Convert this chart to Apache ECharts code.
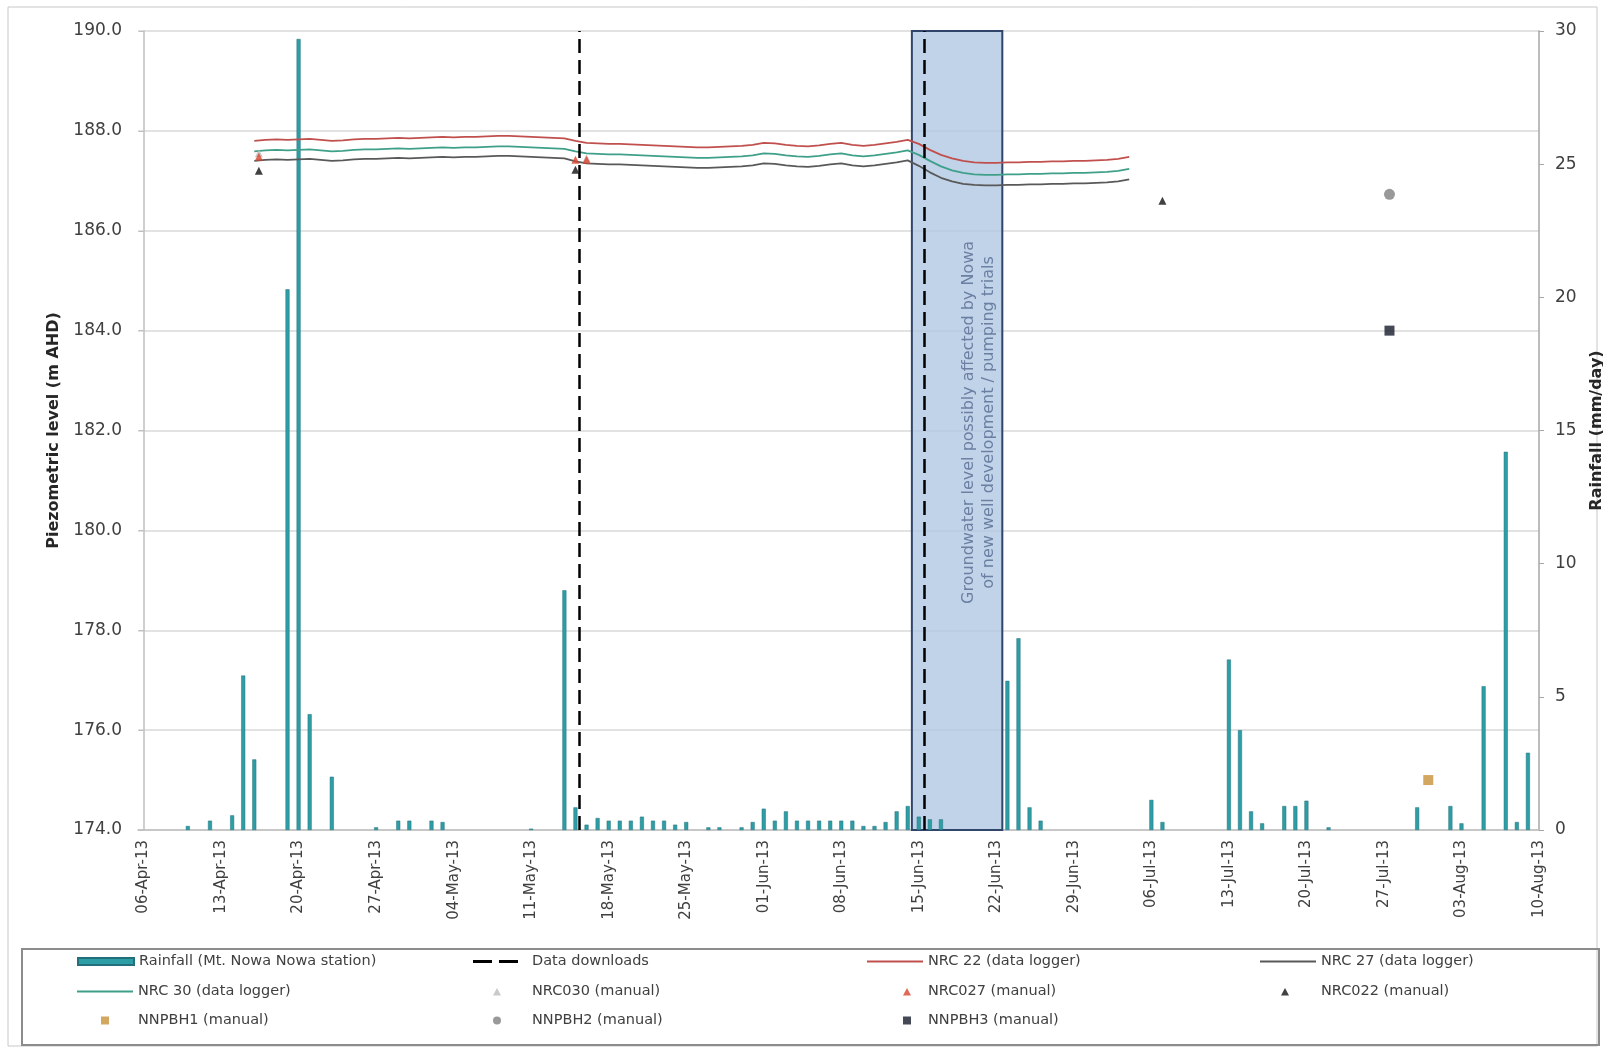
<!DOCTYPE html>
<html><head><meta charset="utf-8">
<script src="https://cdn.jsdelivr.net/npm/echarts@6/dist/echarts.min.js"></script>
<style>html,body{margin:0;padding:0;background:#fff;overflow:hidden}#chart{width:1603px;height:1049px}</style>
</head><body><div id="chart"></div>
<script>
// ---------------- DATA ----------------
const axisStart = '2013-04-06';
const axisEndDay = 126; // 10-Aug-13
const monthNames = ['Jan','Feb','Mar','Apr','May','Jun','Jul','Aug','Sep','Oct','Nov','Dec'];

const rainDates = ['2013-04-10','2013-04-12','2013-04-14','2013-04-15','2013-04-16','2013-04-19','2013-04-20','2013-04-21','2013-04-23',
  '2013-04-27','2013-04-29','2013-04-30','2013-05-02','2013-05-03','2013-05-11','2013-05-14','2013-05-15','2013-05-16','2013-05-17',
  '2013-05-18','2013-05-19','2013-05-20','2013-05-21','2013-05-22','2013-05-23','2013-05-24','2013-05-25','2013-05-27','2013-05-28',
  '2013-05-30','2013-05-31','2013-06-01','2013-06-02','2013-06-03','2013-06-04','2013-06-05','2013-06-06','2013-06-07','2013-06-08',
  '2013-06-09','2013-06-10','2013-06-11','2013-06-12','2013-06-13','2013-06-14','2013-06-15','2013-06-16','2013-06-17','2013-06-23',
  '2013-06-24','2013-06-25','2013-06-26','2013-07-06','2013-07-07','2013-07-13','2013-07-14','2013-07-15','2013-07-16','2013-07-18',
  '2013-07-19','2013-07-20','2013-07-22','2013-07-30','2013-08-02','2013-08-03','2013-08-05','2013-08-07','2013-08-08','2013-08-09'];
const rainValues = [0.15,0.35,0.55,5.8,2.65,20.3,29.7,4.35,2.0,
  0.1,0.35,0.35,0.35,0.3,0.05,9.0,0.85,0.2,0.45,
  0.35,0.35,0.35,0.5,0.35,0.35,0.2,0.3,0.1,0.1,
  0.1,0.3,0.8,0.35,0.7,0.35,0.35,0.35,0.35,0.35,
  0.35,0.15,0.15,0.3,0.7,0.9,0.5,0.4,0.4,5.6,
  7.2,0.85,0.35,1.13,0.3,6.4,3.75,0.7,0.25,0.9,
  0.9,1.1,0.1,0.85,0.9,0.25,5.4,14.2,0.3,2.9];

const loggerStart = '2013-04-16'; // daily values from this date
const nrc22 = [187.80,187.82,187.83,187.82,187.83,187.84,187.82,187.80,187.81,187.83,187.84,
  187.84,187.85,187.86,187.85,187.86,187.87,187.88,187.87,187.88,187.88,
  187.89,187.90,187.90,187.89,187.88,187.87,187.86,187.85,
  187.80,187.76,187.75,187.74,187.74,187.73,187.72,
  187.71,187.70,187.69,187.68,187.67,187.67,187.68,187.69,187.70,187.72,187.76,
  187.75,187.72,187.70,187.69,187.71,187.74,187.76,
  187.72,187.70,187.72,187.75,187.78,187.82,
  187.74,187.62,187.52,187.45,187.40,187.37,187.36,187.36,
  187.37,187.37,187.38,187.38,187.39,187.39,187.40,187.40,187.41,187.42,187.44,187.48];
const nrc30 = [187.59,187.61,187.62,187.61,187.62,187.63,187.61,187.59,187.60,187.62,187.63,
  187.63,187.64,187.65,187.64,187.65,187.66,187.67,187.66,187.67,187.67,
  187.68,187.69,187.69,187.68,187.67,187.66,187.65,187.64,
  187.59,187.55,187.54,187.53,187.53,187.52,187.51,
  187.50,187.49,187.48,187.47,187.46,187.46,187.47,187.48,187.49,187.51,187.55,
  187.54,187.51,187.49,187.48,187.50,187.53,187.55,
  187.51,187.49,187.51,187.54,187.57,187.61,
  187.52,187.40,187.29,187.21,187.16,187.13,187.12,187.12,
  187.13,187.13,187.14,187.14,187.15,187.15,187.16,187.16,187.17,187.18,187.20,187.24];
const nrc27 = [187.40,187.42,187.43,187.42,187.43,187.44,187.42,187.40,187.41,187.43,187.44,
  187.44,187.45,187.46,187.45,187.46,187.47,187.48,187.47,187.48,187.48,
  187.49,187.50,187.50,187.49,187.48,187.47,187.46,187.45,
  187.39,187.35,187.34,187.33,187.33,187.32,187.31,
  187.30,187.29,187.28,187.27,187.26,187.26,187.27,187.28,187.29,187.31,187.35,
  187.34,187.31,187.29,187.28,187.30,187.33,187.35,
  187.31,187.29,187.31,187.34,187.37,187.41,
  187.30,187.17,187.06,186.99,186.94,186.92,186.91,186.91,
  186.92,186.92,186.93,186.93,186.94,186.94,186.95,186.95,186.96,186.97,186.99,187.03];

const downloadDates = ['2013-05-15T08:00','2013-06-15T11:00'];
const shadeFrom = '2013-06-14T09:00';
const shadeTo = '2013-06-22T13:00';
const shadeText = 'Groundwater level possibly affected by Nowa\nof new well development / pumping trials';

const nrc030Manual = [['2013-04-16T10:00',187.55],['2013-05-16',187.45]];
const nrc027Manual = [['2013-04-16T10:00',187.48],['2013-05-15',187.42],['2013-05-16',187.42]];
const nrc022Manual = [['2013-04-16T10:00',187.20],['2013-05-15',187.22],['2013-07-07',186.60]];
const nnpbh1Manual = [['2013-07-31',175.0]];
const nnpbh2Manual = [['2013-07-27T12:00',186.73]];
const nnpbh3Manual = [['2013-07-27T12:00',184.0]];

// ---------------- HELPERS ----------------
function dayOf(s){
  const parts = s.split('T');
  const d = parts[0].split('-').map(Number);
  let h = 0, mi = 0;
  if (parts[1]) { const t = parts[1].split(':').map(Number); h = t[0]; mi = t[1]; }
  const a = axisStart.split('-').map(Number);
  return (Date.UTC(d[0], d[1]-1, d[2], h, mi) - Date.UTC(a[0], a[1]-1, a[2])) / 86400000;
}
function dayLabel(v){
  const r = Math.round(v);
  if (Math.abs(v - r) > 1e-6 || r % 7 !== 0 || r < 0) return '';
  const a = axisStart.split('-').map(Number);
  const dt = new Date(Date.UTC(a[0], a[1]-1, a[2]) + r*86400000);
  const dd = String(dt.getUTCDate()).padStart(2,'0');
  return dd + '-' + monthNames[dt.getUTCMonth()] + '-' + String(dt.getUTCFullYear()).slice(2);
}
const rainData = rainDates.map((d,i)=>[dayOf(d), rainValues[i]]);
const l0 = dayOf(loggerStart);
const lineData = arr => arr.map((v,i)=>[l0+i, v]);
const ptData = arr => arr.map(p=>[dayOf(p[0]), p[1]]);

const FONT = 'DejaVu Sans';
const TXT = '#404040';

// legend icons (56 x 9 box, mark centred at c)
const W = 56;
const box = 'M0,0M' + W + ',9';
const lineIcon = 'path://M0,3.5h' + W + 'v2h-' + W + 'z';
const dashIcon = 'path://M2,3h19v3h-19zM28,3h19v3h-19zM' + W + ',3M0,3';
const triIcon = c => 'path://' + box + 'M' + (c-4) + ',8.5L' + c + ',1L' + (c+4) + ',8.5Z';
const sqIcon = c => 'path://' + box + 'M' + (c-4) + ',0.5h8v8h-8z';
const circIcon = c => 'path://' + box + 'M' + (c-4) + ',4.5a4,4 0 1,0 8,0a4,4 0 1,0 -8,0z';

const chart = echarts.init(document.getElementById('chart'), null, {renderer:'canvas'});

function leg(name, left, rowC, h, icon){
  const o = {
    data:[name], left:left, top:rowC - 9, itemWidth:W, itemHeight:h, padding:0, itemGap:0,
    textStyle:{fontFamily:FONT, fontSize:14.5, color:TXT}, selectedMode:false
  };
  if (icon) o.icon = icon;
  return o;
}
const R1 = 963, R2 = 993, R3 = 1022;
const C1 = 77, C2 = 471, C3 = 867, C4 = 1260;

const option = {
  animation:false,
  backgroundColor:'#fff',
  textStyle:{fontFamily:FONT},
  graphic:[
    {type:'rect', shape:{x:8,y:7,width:1589,height:1039}, style:{fill:'none', stroke:'#c8c8c8', lineWidth:1}, z:-10},
    {type:'rect', shape:{x:22,y:949,width:1577,height:96}, style:{fill:'none', stroke:'#8c8c8c', lineWidth:2}, z:-10}
  ],
  legend:[
    leg('Rainfall (Mt. Nowa Nowa station)', C1, R1, 7, 'rect'),
    leg('Data downloads', C2, R1, 9, dashIcon),
    leg('NRC 22 (data logger)', C3, R1, 9, lineIcon),
    leg('NRC 27 (data logger)', C4, R1, 9, lineIcon),
    leg('NRC 30 (data logger)', C1, R2, 9, lineIcon),
    leg('NRC030 (manual)', C2, R2, 9, triIcon(26)),
    leg('NRC027 (manual)', C3, R2, 9, triIcon(40)),
    leg('NRC022 (manual)', C4, R2, 9, triIcon(25)),
    leg('NNPBH1 (manual)', C1, R3, 9, sqIcon(28)),
    leg('NNPBH2 (manual)', C2, R3, 9, circIcon(26)),
    leg('NNPBH3 (manual)', C3, R3, 9, sqIcon(40))
  ],
  grid:{left:138, right:64, top:31, bottom:219, containLabel:false, outerBoundsMode:'none'},
  xAxis:{
    type:'value', min:-0.5, max:axisEndDay, interval:0.5,
    axisLine:{show:true, lineStyle:{color:'#bfbfbf', width:1.5}},
    axisTick:{show:false},
    splitLine:{show:false},
    axisLabel:{rotate:90, formatter:dayLabel, fontFamily:FONT, fontSize:15, color:TXT, margin:10}
  },
  yAxis:[
    {type:'value', min:174, max:190, interval:2, position:'left',
     name:'Piezometric level (m AHD)', nameLocation:'middle', nameRotate:90, nameGap:76,
     nameTextStyle:{fontFamily:FONT, fontSize:16, fontWeight:'bold', color:'#262626'},
     axisLine:{show:true, lineStyle:{color:'#bfbfbf', width:1.5}},
     axisTick:{show:true, length:5, lineStyle:{color:'#bfbfbf'}},
     splitLine:{show:true, lineStyle:{color:'#d9d9d9', width:1.5}},
     axisLabel:{formatter:v=>v.toFixed(1), fontFamily:FONT, fontSize:17, color:TXT, margin:16}},
    {type:'value', min:0, max:30, interval:5, position:'right',
     name:'Rainfall (mm/day)', nameLocation:'middle', nameRotate:90, nameGap:50,
     nameTextStyle:{fontFamily:FONT, fontSize:16, fontWeight:'bold', color:'#262626'},
     axisLine:{show:true, lineStyle:{color:'#a6a6a6', width:1.5}},
     axisTick:{show:true, length:5, lineStyle:{color:'#a6a6a6'}},
     splitLine:{show:false},
     axisLabel:{fontFamily:FONT, fontSize:17, color:TXT, margin:16}}
  ],
  series:[
    {name:'Rainfall (Mt. Nowa Nowa station)', type:'bar', yAxisIndex:1, barWidth:4, z:2,
     itemStyle:{color:'#2e9ea6', borderColor:'#23707a', borderWidth:0.5}, data:rainData},
    {name:'shade', type:'line', yAxisIndex:0, data:[], z:2.5, silent:true,
     markArea:{silent:true,
       itemStyle:{color:'rgba(176,198,226,0.78)', borderColor:'#30456a', borderWidth:2},
       label:{show:true, position:['73%','49%'], rotate:90, formatter:shadeText, color:'#6a7fa2',
              fontFamily:FONT, fontSize:16, lineHeight:20, align:'center', verticalAlign:'middle'},
       data:[[{xAxis:dayOf(shadeFrom)},{xAxis:dayOf(shadeTo)}]]}},
    {name:'NRC 22 (data logger)', type:'line', yAxisIndex:0, showSymbol:false, symbol:'none', z:3,
     lineStyle:{color:'#c0504d', width:1.8}, itemStyle:{color:'#c0504d'}, data:lineData(nrc22)},
    {name:'NRC 27 (data logger)', type:'line', yAxisIndex:0, showSymbol:false, symbol:'none', z:3,
     lineStyle:{color:'#595959', width:1.8}, itemStyle:{color:'#595959'}, data:lineData(nrc27)},
    {name:'NRC 30 (data logger)', type:'line', yAxisIndex:0, showSymbol:false, symbol:'none', z:3,
     lineStyle:{color:'#3fa08a', width:1.8}, itemStyle:{color:'#3fa08a'}, data:lineData(nrc30)},
    {name:'Data downloads', type:'line', yAxisIndex:0, data:[], symbol:'none', z:4,
     lineStyle:{color:'#000', width:2.5, type:[14,7]}, itemStyle:{color:'#000'},
     markLine:{silent:true, symbol:['none','none'], label:{show:false},
       lineStyle:{color:'#000', width:2.5, type:[14,7]},
       data:downloadDates.map(d=>({xAxis:dayOf(d)}))}},
    {name:'NRC030 (manual)', type:'scatter', yAxisIndex:0, symbol:'triangle', symbolSize:8, z:5,
     itemStyle:{color:'#bdbdbd'}, data:ptData(nrc030Manual)},
    {name:'NRC027 (manual)', type:'scatter', yAxisIndex:0, symbol:'triangle', symbolSize:8, z:5,
     itemStyle:{color:'#d9442e'}, data:ptData(nrc027Manual)},
    {name:'NRC022 (manual)', type:'scatter', yAxisIndex:0, symbol:'triangle', symbolSize:8, z:5,
     itemStyle:{color:'#111'}, data:ptData(nrc022Manual)},
    {name:'NNPBH1 (manual)', type:'scatter', yAxisIndex:0, symbol:'rect', symbolSize:10, z:5,
     itemStyle:{color:'#c9913a'}, data:ptData(nnpbh1Manual)},
    {name:'NNPBH2 (manual)', type:'scatter', yAxisIndex:0, symbol:'circle', symbolSize:11, z:5,
     itemStyle:{color:'#7f7f7f'}, data:ptData(nnpbh2Manual)},
    {name:'NNPBH3 (manual)', type:'scatter', yAxisIndex:0, symbol:'rect', symbolSize:10, z:5,
     itemStyle:{color:'#151b2b'}, data:ptData(nnpbh3Manual)}
  ]
};
chart.setOption(option);
</script>
</body></html>
